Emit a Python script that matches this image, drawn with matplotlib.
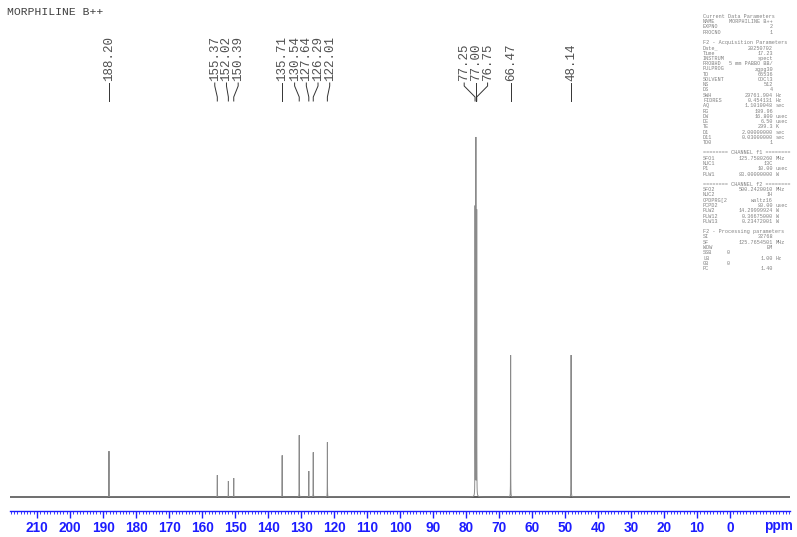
import numpy as np
import matplotlib
matplotlib.use("Agg")
import matplotlib.pyplot as plt
from matplotlib.ticker import MultipleLocator

# ---------------- data ----------------
title = "MORPHILINE B++"
peak_ppm = [188.20, 155.37, 152.02, 150.39, 135.71, 130.54, 127.64, 126.29,
            122.01, 77.25, 77.00, 76.75, 66.47, 48.14]
peak_height = [46, 22, 16, 19, 42, 62, 26, 45, 55, 289, 359, 285, 142, 143]
peak_labels = ["188.20", "155.37", "152.02", "150.39", "135.71", "130.54",
               "127.64", "126.29", "122.01", "77.25", "77.00", "76.75",
               "66.47", "48.14"]
major_ticks = [210, 200, 190, 180, 170, 160, 150, 140, 130, 120, 110, 100,
               90, 80, 70, 60, 50, 40, 30, 20, 10, 0]

param_lines = [
    ("Current Data Parameters", "", ""),
    ("NAME", "MORPHILINE B++", ""),
    ("EXPNO", "2", ""),
    ("PROCNO", "1", ""),
    None,
    ("F2 - Acquisition Parameters", "", ""),
    ("Date_", "20250702", ""),
    ("Time", "17.23", ""),
    ("INSTRUM", "spect", ""),
    ("PROBHD", "5 mm PABBO BB/", ""),
    ("PULPROG", "zgpg30", ""),
    ("TD", "65536", ""),
    ("SOLVENT", "CDCl3", ""),
    ("NS", "512", ""),
    ("DS", "4", ""),
    ("SWH", "29761.904", "Hz"),
    ("FIDRES", "0.454131", "Hz"),
    ("AQ", "1.1010048", "sec"),
    ("RG", "189.96", ""),
    ("DW", "16.800", "usec"),
    ("DE", "6.50", "usec"),
    ("TE", "299.3", "K"),
    ("D1", "2.00000000", "sec"),
    ("D11", "0.03000000", "sec"),
    ("TD0", "1", ""),
    None,
    ("======== CHANNEL f1 ========", "", ""),
    ("SFO1", "125.7580260", "MHz"),
    ("NUC1", "13C", ""),
    ("P1", "10.00", "usec"),
    ("PLW1", "83.00000000", "W"),
    None,
    ("======== CHANNEL f2 ========", "", ""),
    ("SFO2", "500.2420010", "MHz"),
    ("NUC2", "1H", ""),
    ("CPDPRG[2", "waltz16", ""),
    ("PCPD2", "80.00", "usec"),
    ("PLW2", "14.29999924", "W"),
    ("PLW12", "0.36675000", "W"),
    ("PLW13", "0.23472001", "W"),
    None,
    ("F2 - Processing parameters", "", ""),
    ("SI", "32768", ""),
    ("SF", "125.7654501", "MHz"),
    ("WDW", "EM", ""),
    ("SSB", "0", "L"),
    ("LB", "1.00", "Hz"),
    ("GB", "0", "L"),
    ("PC", "1.40", ""),
]

# ---------------- figure ----------------
W, H = 797, 537
fig = plt.figure(figsize=(W / 100, H / 100), dpi=100)
ax_bottom_px = 511
ax = fig.add_axes([10 / W, (H - ax_bottom_px) / H, 780 / W, ax_bottom_px / H])
ax.set_xlim(218.2, -18.2)
ax.set_ylim(0, ax_bottom_px)

baseline = 14
x = np.linspace(-18.2, 218.2, 60001)
y = np.full_like(x, baseline, dtype=float)
hw = 0.02
for p, h in zip(peak_ppm, peak_height):
    y += h * hw**2 / ((x - p) ** 2 + hw**2)
ax.plot(x, y, color="#8a8a8a", lw=0.7, solid_joinstyle="miter")
ax.axhline(baseline, color="#2a2a2a", lw=1.1, zorder=1)

# ---------------- peak labels ----------------
px_per_ppm = 780 / (218.2 + 18.2)
spacing = 11.7 / px_per_ppm
order = sorted(range(len(peak_ppm)), key=lambda i: -peak_ppm[i])
clusters = [[i] for i in order]

def cl_pos(c):
    m = np.mean([peak_ppm[i] for i in c])
    n = len(c)
    return [m + spacing * ((n - 1) / 2 - k) for k in range(n)]

changed = True
while changed:
    changed = False
    for k in range(len(clusters) - 1):
        a, b = clusters[k], clusters[k + 1]
        if cl_pos(a)[-1] - cl_pos(b)[0] < spacing:
            clusters[k] = a + b
            del clusters[k + 1]
            changed = True
            break

label_pos = {}
for c in clusters:
    for i, lp in zip(c, cl_pos(c)):
        label_pos[i] = lp

def ty(px):
    return ax_bottom_px - px

mono = "Liberation Mono"
for i in range(len(peak_ppm)):
    lp = label_pos[i]
    pp = peak_ppm[i]
    ax.text(lp, ty(81), peak_labels[i], rotation=90, ha="center", va="bottom",
            family=mono, fontsize=9.0, color="#505050")
    ax.plot([lp, lp, pp, pp], [ty(83), ty(86), ty(97), ty(101)],
            color="#333333", lw=0.7)

# ---------------- axis styling ----------------
for s in ("left", "right", "top"):
    ax.spines[s].set_visible(False)
ax.spines["bottom"].set_color("#1c1cff")
ax.spines["bottom"].set_linewidth(1.0)
ax.set_yticks([])
ax.set_xticks(major_ticks)
ax.set_xticklabels([str(t) for t in major_ticks])
ax.xaxis.set_minor_locator(MultipleLocator(1))
ax.tick_params(axis="x", which="major", direction="out", length=5, width=1.0,
               color="#1c1cff", labelcolor="#1c1cff", labelsize=9.8, pad=2.0)
ax.tick_params(axis="x", which="minor", direction="out", length=2.2, width=0.6,
               color="#1c1cff")
for lab in ax.get_xticklabels():
    lab.set_fontweight("bold")
    lab.set_family("Liberation Sans")
ax.patch.set_alpha(0)

fig.text(778 / W, 1 - 526 / H, "ppm", ha="center", va="center",
         color="#1c1cff", fontsize=9.8, fontweight="bold", family="Liberation Sans")

# ---------------- title ----------------
fig.text(7 / W, 1 - 12 / H, title, ha="left", va="center", family=mono,
         fontsize=8.2, color="#404040")

# ---------------- parameter block ----------------
y0 = 16.5
dy = 5.25
for k, item in enumerate(param_lines):
    if item is None:
        continue
    key, val, unit = item
    yy = 1 - (y0 + k * dy) / H
    kw = dict(family=mono, fontsize=3.7, color="#808080", va="center")
    fig.text(703 / W, yy, key, ha="left", **kw)
    if unit == "L":
        fig.text(727 / W, yy, val, ha="left", **kw)
    elif val:
        fig.text(773 / W, yy, val, ha="right", **kw)
        if unit:
            fig.text(775.5 / W, yy, unit, ha="left", **kw)

fig.savefig("out.png", dpi=100)
